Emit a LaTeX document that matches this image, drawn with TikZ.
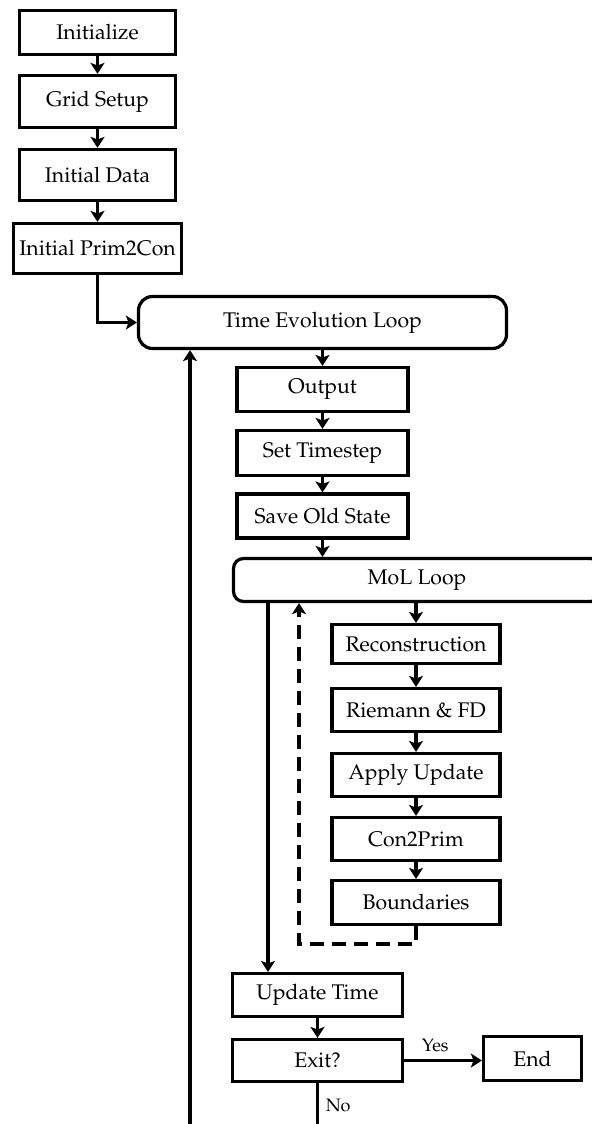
\documentclass[tikz,border=0pt]{standalone}
\IfFileExists{mathpazo.sty}{\usepackage[T1]{fontenc}\usepackage{mathpazo}}{\usepackage{fontspec}\setmainfont{Liberation Serif}}
\usetikzlibrary{arrows.meta}
\begin{document}
\begin{tikzpicture}[x=0.5pt, y=-0.5pt, line width=1.6pt,
  every node/.style={font=\fontsize{10.6}{12}\selectfont},
  stage/.style={draw, rectangle, inner sep=0pt, minimum width=85.5pt, minimum height=22pt},
  loopbox/.style={draw, rounded corners=7pt, inner sep=0pt, minimum height=26pt},
  flow/.style={-{Stealth[length=5.5pt, width=7pt, inset=1.3pt]}},
  backflow/.style={flow, dash pattern=on 7pt off 4pt},
  answer/.style={font=\fontsize{9}{10}\selectfont}]
  \useasboundingbox (0,0) rectangle (592,1124);
  \clip (0,0) rectangle (592,1124);

  % Setup
  \node[stage, minimum width=78pt] (init) at (97.5,32.5) {Initialize};
  \node[stage, minimum width=78pt, minimum height=26pt] (grid) at (97.5,101.5) {Grid Setup};
  \node[stage, minimum width=78pt, minimum height=25.5pt] (idata) at (97.5,175) {Initial Data};
  \node[stage, minimum width=84pt, minimum height=25pt] (p2c) at (97.5,248.5) {Initial Prim2Con};

  % Time evolution loop
  \node[loopbox, minimum width=184pt] (tel) at (322.5,322.5) {Time Evolution Loop};
  \node[stage] (output) at (322.5,389.5) {Output};
  \node[stage, minimum height=22.5pt] (tstep) at (322.5,453) {Set Timestep};
  \node[stage] (save) at (322.5,516) {Save Old State};

  % MoL loop
  \node[loopbox, rounded corners=5pt, minimum width=183.5pt, minimum height=21.5pt] (mol) at (417,580) {MoL Loop};
  \node[stage, minimum width=84pt, minimum height=19.5pt] (recon) at (416,644) {Reconstruction};
  \node[stage, minimum width=84pt, minimum height=21.5pt] (riemann) at (416,710) {Riemann \& FD};
  \node[stage, minimum width=84pt, minimum height=21.5pt] (apply) at (416,775) {Apply Update};
  \node[stage, minimum width=84pt, minimum height=21.5pt] (c2p) at (416,839) {Con2Prim};
  \node[stage, minimum width=84pt] (bound) at (416,902.5) {Boundaries};

  % Time update and exit
  \node[stage, minimum width=85pt, minimum height=21.5pt] (utime) at (317.5,995) {Update Time};
  \node[stage, minimum width=85pt, minimum height=21pt] (exit) at (317.5,1060.5) {Exit?};
  \node[stage, minimum width=49pt] (endn) at (532.5,1058.5) {End};

  \coordinate (soldown) at (268,0);
  \coordinate (back) at (299,944);
  \coordinate (retbot) at (190,1124);
  \coordinate (nobot) at (317.5,1124);

  \draw[flow] (init) -- (grid);
  \draw[flow] (grid) -- (idata);
  \draw[flow] (idata) -- (p2c);
  \draw[flow] (p2c.south) |- (tel.west);
  \draw[flow] (tel) -- (output);
  \draw[flow] (output) -- (tstep);
  \draw[flow] (tstep) -- (save);
  \draw[flow] (save) -- (save |- mol.north);
  \draw[flow] (recon |- mol.south) -- (recon);
  \draw[flow] (recon) -- (riemann);
  \draw[flow] (riemann) -- (apply);
  \draw[flow] (apply) -- (c2p);
  \draw[flow] (c2p) -- (bound);
  \draw[backflow] (bound.south) -- (bound.south |- back) -- (back) -- (back |- mol.south);
  \draw[flow] (mol.south -| soldown) -- (utime.north -| soldown);
  \draw[flow] (utime) -- (exit);
  \draw[flow] (exit.east) -- node[answer, above, pos=0.4] {Yes} (exit.east -| endn.west);
  \draw (exit) -- node[answer, right, pos=0.55] {No} (nobot);
  \draw[flow] (retbot) -- (retbot |- tel.south);
\end{tikzpicture}
\end{document}
